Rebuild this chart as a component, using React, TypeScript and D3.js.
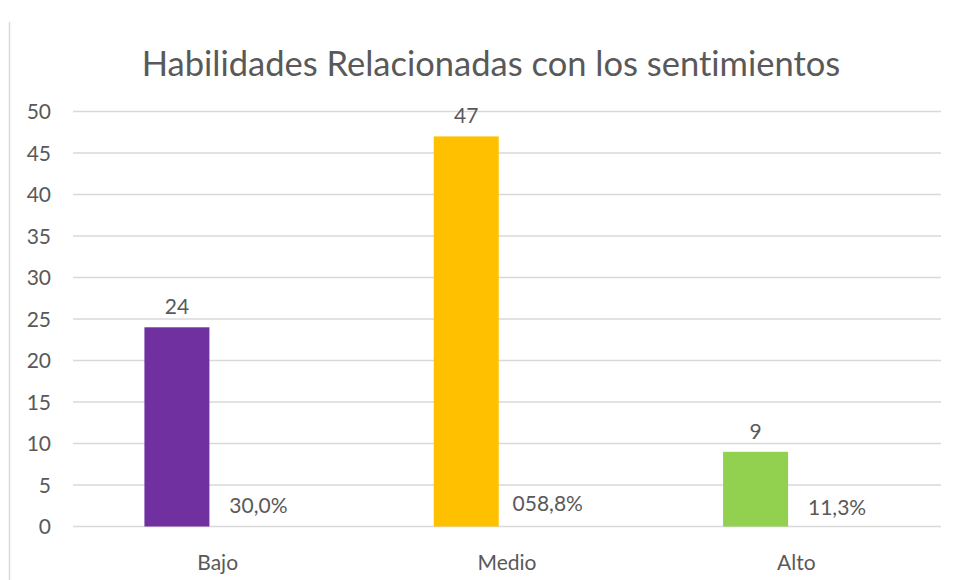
import React from "react";
import * as d3 from "d3";

const categories = ["Bajo", "Medio", "Alto"];
const counts = [24, 47, 9];
const percents = [0.3, 0.588, 0.113];
const percentLabels = ["30,0%", "058,8%", "11,3%"];
const colors = ["#7030A0", "#FFC000", "#92D050"];
const yTicks = [0, 5, 10, 15, 20, 25, 30, 35, 40, 45, 50];
const title = "Habilidades Relacionadas con los sentimientos";

const W = 955;
const H = 580;
const FONT = "Lato, 'Open Sans', sans-serif";
const TEXT = "#595959";
const GRID = "#D9D9D9";

export default function App() {
  const x = d3.scaleBand<string>().domain(categories).range([73, 941]).padding(0);
  const inner = d3
    .scaleBand<string>()
    .domain(["count", "pct"])
    .range([-73.25, 73.25])
    .paddingInner(0.2025)
    .paddingOuter(0);
  const y = d3.scaleLinear().domain([0, 50]).range([526.5, 111.5]);
  const bw = inner.bandwidth();

  return (
    <svg
      width={W}
      height={H}
      style={{ position: "absolute", left: 0, top: 0, background: "#fff", fontVariantLigatures: "none" }}
      fontFamily={FONT}
    >
      <rect x={0} y={0} width={W} height={H} fill="#fff" />
      <line x1={9.5} x2={9.5} y1={22} y2={H} stroke={GRID} strokeWidth={1.5} />
      <text x={491} y={76} textAnchor="middle" fontSize={34.5} fill={TEXT}>
        {title}
      </text>
      {yTicks.map((t) => (
        <g key={t}>
          <line x1={73} x2={941} y1={y(t)} y2={y(t)} stroke={GRID} strokeWidth={1.5} />
          <text x={51} y={y(t) + 7.5} textAnchor="end" fontSize={21} fill={TEXT}>
            {t}
          </text>
        </g>
      ))}
      {categories.map((c, i) => {
        const cx = (x(c) as number) + x.bandwidth() / 2;
        const x1 = cx + (inner("count") as number);
        const x2 = cx + (inner("pct") as number);
        return (
          <g key={c}>
            <rect x={x1} y={y(counts[i])} width={bw} height={y(0) - y(counts[i])} fill={colors[i]} />
            <rect x={x2} y={y(percents[i])} width={bw} height={y(0) - y(percents[i])} fill="none" />
            <text x={x1 + bw / 2} y={y(counts[i]) - 13} textAnchor="middle" fontSize={21} fill={TEXT}>
              {counts[i]}
            </text>
            <text x={x2 + bw / 2} y={y(percents[i]) - 11} textAnchor="middle" fontSize={21} fill={TEXT}>
              {percentLabels[i]}
            </text>
            <text x={cx} y={570} textAnchor="middle" fontSize={21} fill={TEXT}>
              {c}
            </text>
          </g>
        );
      })}
    </svg>
  );
}
